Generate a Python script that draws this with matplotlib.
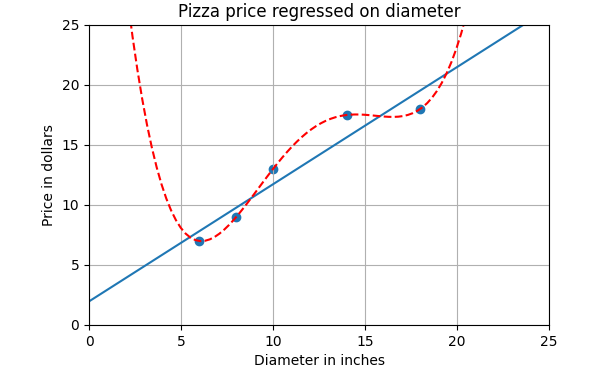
import numpy as np
import matplotlib
matplotlib.use("Agg")
import matplotlib.pyplot as plt

diameters = [6, 8, 10, 14, 18]
prices = [7, 9, 13, 17.5, 18]

X = np.array(diameters, dtype=float)
y = np.array(prices, dtype=float)

xx = np.linspace(0, 26, 100)
lin = np.polyfit(X, y, 1)
quart = np.polyfit(X, y, 4)

fig = plt.figure(figsize=(6.04, 3.78), dpi=100)
ax = fig.add_axes([89/604, 1-325/378, (549-89)/604, 300/378])
ax.scatter(X, y)
ax.plot(xx, np.polyval(lin, xx))
ax.plot(xx, np.polyval(quart, xx), c='r', linestyle='--')
ax.set_title('Pizza price regressed on diameter')
ax.set_xlabel('Diameter in inches')
ax.set_ylabel('Price in dollars')
ax.set_xlim(0, 25)
ax.set_ylim(0, 25)
ax.grid(True)
fig.savefig('out.png', dpi=100)
